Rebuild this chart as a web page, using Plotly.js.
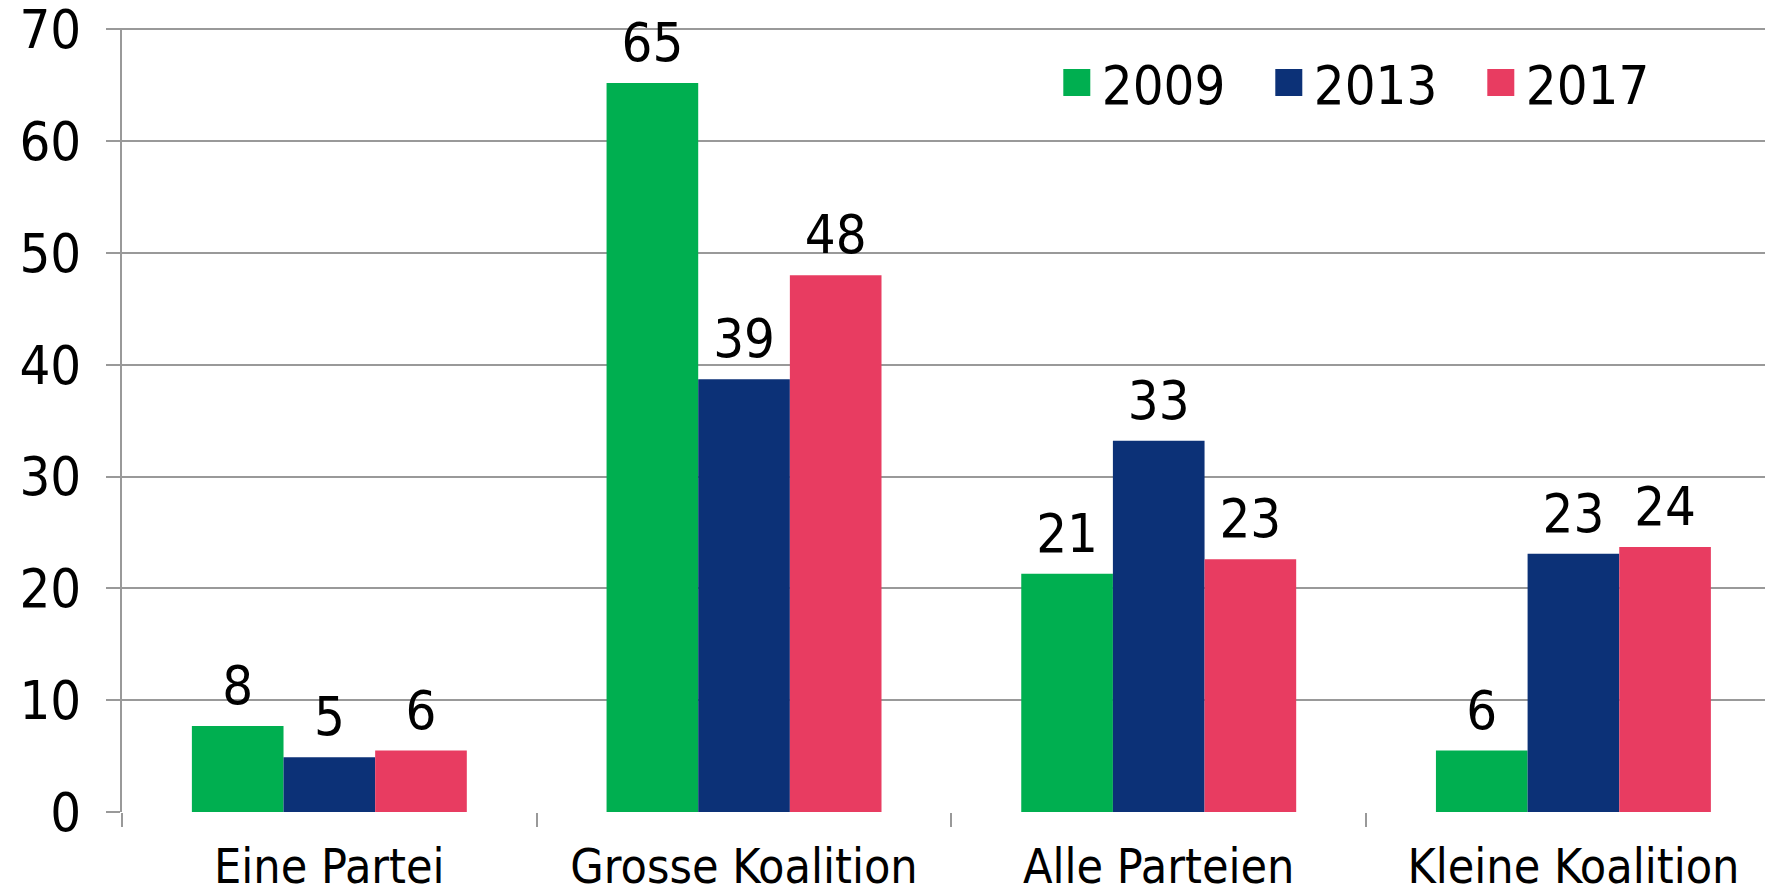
<!DOCTYPE html>
<html>
<head>
<meta charset="utf-8">
<script src="https://cdn.plot.ly/plotly-3.0.1.min.js"></script>
<style>
html,body{margin:0;padding:0;background:#fff;}
#chart{width:1765px;height:889px;}
</style>
</head>
<body>
<div id="chart"></div>
<script>
const categories = ["Eine Partei", "Grosse Koalition", "Alle Parteien", "Kleine Koalition"];
const seriesNames = ["2009", "2013", "2017"];
const values2009 = [7.7, 65.2, 21.3, 5.5];
const values2013 = [4.9, 38.7, 33.2, 23.1];
const values2017 = [5.5, 48.0, 22.6, 23.7];
const colors = ["#00AF50", "#0C3177", "#E83C61"];

const FONT = '"DejaVu Sans Condensed", "DejaVu Sans", sans-serif';
const allValues = [values2009, values2013, values2017];

const traces = allValues.map((vals, i) => ({
  type: 'bar',
  name: seriesNames[i],
  x: categories,
  y: vals,
  marker: {color: colors[i], line: {width: 0}},
  text: vals.map(v => String(Math.round(v))),
  texttemplate: '%{text}',
  textposition: 'outside',
  cliponaxis: false,
  textfont: {family: FONT, size: 54, color: '#000'},
  hoverinfo: 'x+y'
}));

const layout = {
  width: 1765, height: 889,
  margin: {l: 122, r: 0, t: 28, b: 77, autoexpand: false},
  paper_bgcolor: '#fff', plot_bgcolor: '#fff',
  font: {family: FONT, color: '#000'},
  barmode: 'group',
  bargap: 0.337,
  bargroupgap: 0,
  showlegend: true,
  legend: {
    orientation: 'h',
    x: 0.572, xanchor: 'left',
    y: 0.93, yanchor: 'middle',
    font: {family: FONT, size: 54, color: '#000'},
    bgcolor: 'rgba(0,0,0,0)',
    entrywidth: 167, entrywidthmode: 'pixels',
    traceorder: 'normal'
  },
  xaxis: {
    type: 'category',
    range: [-0.5, 3.462],
    automargin: false,
    showgrid: false,
    showline: false,
    ticks: 'outside', tickson: 'boundaries', ticklen: 14, tickwidth: 2, tickcolor: '#999',
    tickfont: {family: FONT, size: 48, color: '#000'},
    ticklabelstandoff: 22,
    ticklabeloverflow: 'allow',
    zeroline: false
  },
  yaxis: {
    range: [0, 70.12],
    automargin: false,
    dtick: 10, tick0: 0,
    showgrid: true, gridcolor: '#999', gridwidth: 2,
    showline: true, linecolor: '#999', linewidth: 2,
    ticks: 'outside', ticklen: 14, tickwidth: 2, tickcolor: '#999',
    tickfont: {family: FONT, size: 54, color: '#000'},
    ticklabelstandoff: 14,
    ticklabeloverflow: 'allow',
    zeroline: false
  }
};

Plotly.newPlot('chart', traces, layout, {displayModeBar: false, staticPlot: true}).then(gd => {
  gd.querySelectorAll('.legend .scrollbox').forEach(s => s.removeAttribute('clip-path'));
  gd.querySelectorAll('.legend .legendpoints path').forEach(p => {
    p.setAttribute('transform', 'translate(15,0) scale(2.25)');
  });
  gd.querySelectorAll('.bartext').forEach(t => {
    const tr = t.getAttribute('transform') || '';
    t.setAttribute('transform', 'translate(0,-6) ' + tr);
  });
});
</script>
</body>
</html>
